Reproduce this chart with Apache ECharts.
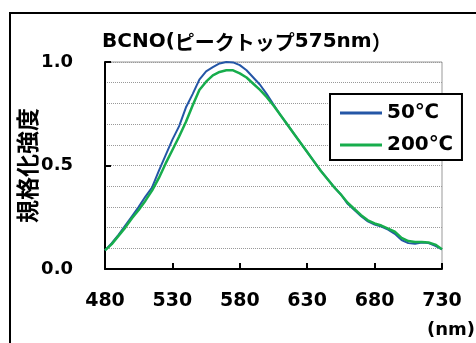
<!DOCTYPE html>
<html>
<head>
<meta charset="utf-8">
<script src="https://cdn.jsdelivr.net/npm/echarts@6/dist/echarts.min.js"></script>
<style>
html,body{margin:0;padding:0;background:#fff;}
#chart{width:476px;height:343px;}
</style>
</head>
<body>
<div id="chart"></div>
<script>
const wavelengths = [480,485,490,495,500,505,510,515,520,525,530,535,540,545,550,555,560,565,570,575,580,585,590,595,600,605,610,615,620,625,630,635,640,645,650,655,660,665,670,675,680,685,690,695,700,705,710,715,720,725,730];
const series50 = [0.09,0.125,0.165,0.21,0.255,0.30,0.35,0.395,0.475,0.55,0.625,0.69,0.78,0.845,0.915,0.955,0.975,0.993,1.0,0.998,0.985,0.96,0.925,0.89,0.845,0.795,0.745,0.70,0.655,0.61,0.565,0.52,0.475,0.435,0.395,0.36,0.315,0.285,0.255,0.23,0.215,0.205,0.19,0.17,0.14,0.125,0.122,0.128,0.125,0.112,0.095];
const series200 = [0.09,0.12,0.16,0.20,0.245,0.285,0.33,0.38,0.44,0.51,0.575,0.64,0.71,0.79,0.865,0.905,0.935,0.952,0.96,0.96,0.945,0.925,0.895,0.865,0.83,0.79,0.745,0.70,0.655,0.61,0.565,0.52,0.475,0.435,0.395,0.36,0.32,0.29,0.26,0.235,0.22,0.21,0.195,0.18,0.15,0.135,0.13,0.13,0.128,0.118,0.095];
const seriesNames = ['50℃','200℃'];
const titleParts = ['BCNO(','ピークトップ','575nm','）'];
const yAxisName = '規格化強度';
const xUnit = '(nm)';

const pairs = (xs, ys) => xs.map((x, i) => [x, ys[i]]);
const latin = 'DejaVu Sans, Liberation Sans, sans-serif';
const cjk = 'Noto Sans CJK JP, sans-serif';

const chart = echarts.init(document.getElementById('chart'), null, {renderer:'canvas'});
chart.setOption({
  backgroundColor: '#fff',
  animation: false,
  grid: {left: 105, right: 34, top: 62, bottom: 74, show: true, borderColor: '#999', borderWidth: 1},
  xAxis: {
    type: 'value', min: 480, max: 730, interval: 50,
    axisLine: {show: true, lineStyle: {color: '#000', width: 2}},
    axisTick: {show: true, inside: true, length: 6, lineStyle: {color: '#000', width: 2}},
    axisLabel: {color: '#000', fontFamily: latin, fontWeight: 'bold', fontSize: 19, margin: 23},
    splitLine: {show: false}
  },
  yAxis: {
    type: 'value', min: 0, max: 1, interval: 0.5,
    name: yAxisName, nameLocation: 'middle', nameRotate: 90, nameGap: 66,
    nameMoveOverlap: false,
    nameTextStyle: {color: '#000', fontFamily: cjk, fontWeight: 'bold', fontSize: 23},
    axisLine: {show: true, lineStyle: {color: '#000', width: 2}},
    axisTick: {show: true, inside: true, length: 6, lineStyle: {color: '#000', width: 2}},
    axisLabel: {color: '#000', fontFamily: latin, fontWeight: 'bold', fontSize: 18, margin: 32,
      formatter: v => v.toFixed(1)},
    splitLine: {show: true, lineStyle: {color: '#999', type: [1, 1], width: 1}},
    minorTick: {show: false, splitNumber: 5},
    minorSplitLine: {show: true, lineStyle: {color: '#999', type: [1, 1], width: 1}}
  },
  legend: {
    orient: 'vertical', left: 330, top: 94,
    padding: [9, 9, 5, 10], itemGap: 12,
    itemWidth: 42, itemHeight: 3, icon: 'rect',
    backgroundColor: '#fff', borderColor: '#000', borderWidth: 2, borderRadius: 0,
    textStyle: {color: '#000', fontFamily: latin, fontWeight: 'bold', fontSize: 20, lineHeight: 20},
    data: seriesNames
  },
  series: [
    {name: seriesNames[0], type: 'line', showSymbol: false, data: pairs(wavelengths, series50),
     lineStyle: {color: '#2456a6', width: 2}, itemStyle: {color: '#2456a6'}},
    {name: seriesNames[1], type: 'line', showSymbol: false, data: pairs(wavelengths, series200),
     lineStyle: {color: '#17ad4c', width: 2.5}, itemStyle: {color: '#17ad4c'}}
  ],
  graphic: [
    {type: 'rect', shape: {x: 10, y: 13, width: 600, height: 500},
     style: {fill: 'none', stroke: '#000', lineWidth: 2}, silent: true},
    {type: 'text', x: 102, y: 42,
     style: {
       text: '{a|' + titleParts[0] + '}{b|' + titleParts[1] + '}{a|' + titleParts[2] + '}{b|' + titleParts[3] + '}',
       verticalAlign: 'middle', align: 'left',
       rich: {
         a: {fontFamily: latin, fontWeight: 'bold', fontSize: 20, fill: '#000'},
         b: {fontFamily: cjk, fontWeight: 'bold', fontSize: 20, fill: '#000'}
       }
     }},
    {type: 'text', x: 427, y: 330,
     style: {text: xUnit, fontFamily: latin, fontWeight: 'bold', fontSize: 18, fill: '#000', verticalAlign: 'middle', align: 'left'}}
  ]
});
</script>
</body>
</html>
